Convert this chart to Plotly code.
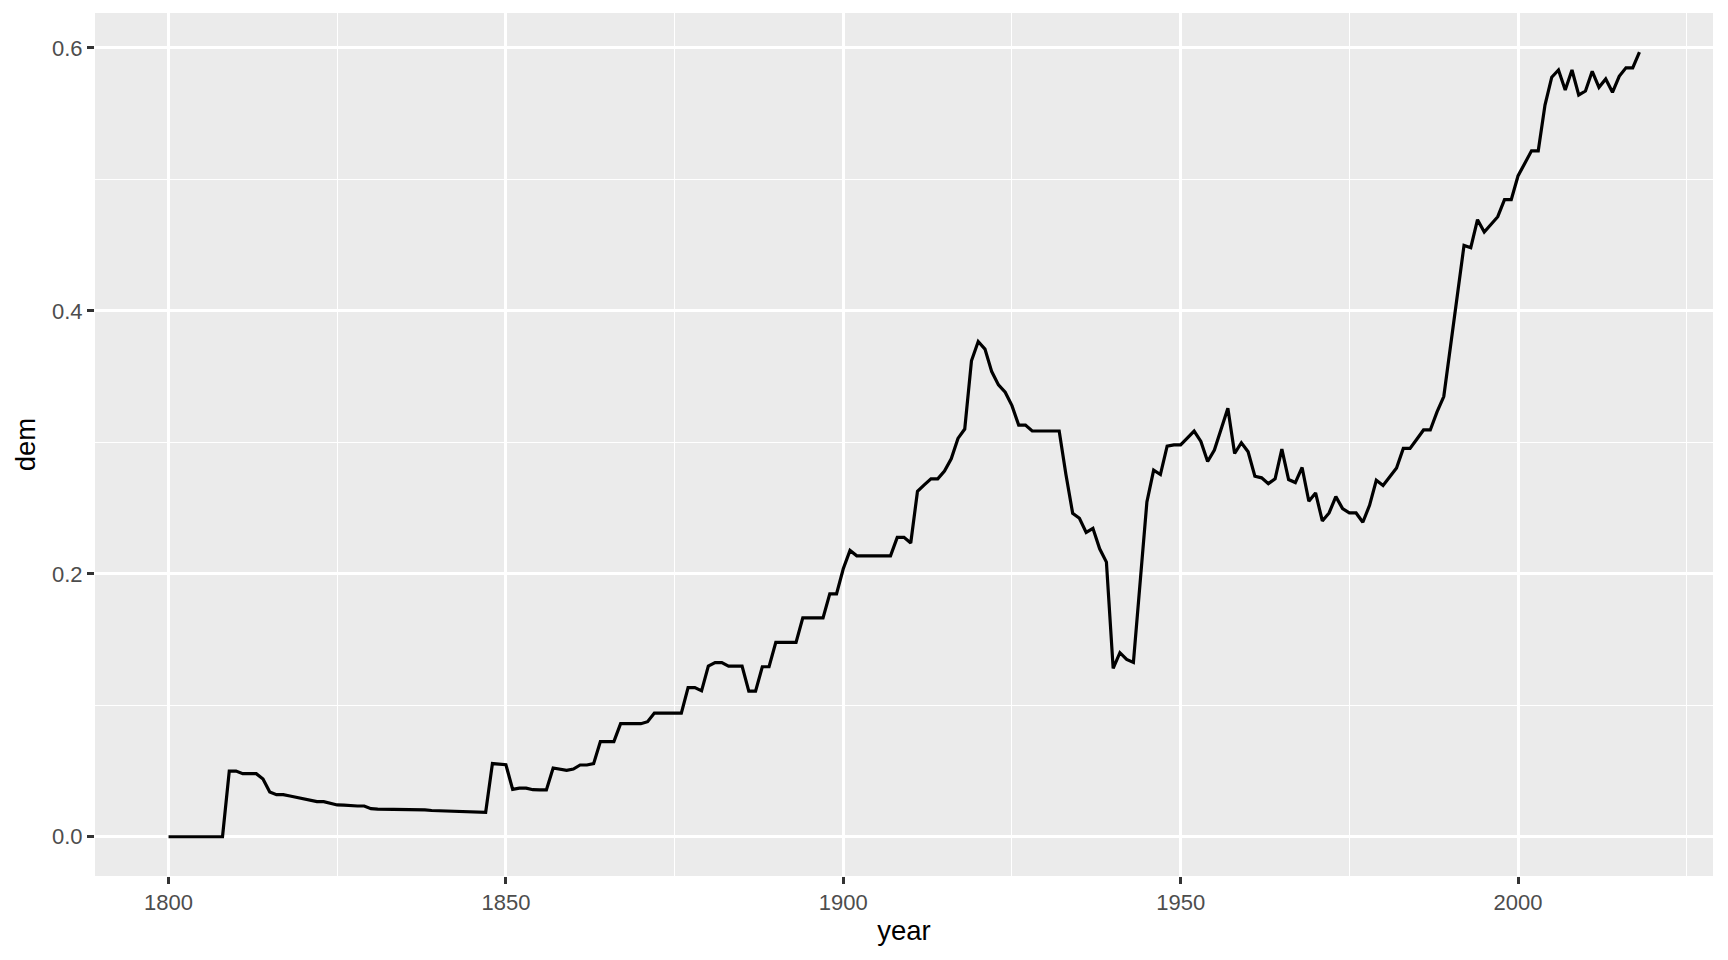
import plotly.graph_objects as go

years = list(range(1800, 2019))

dem = [
    0, 0, 0, 0, 0, 0, 0, 0, 0, 0.050,                                      # 1800s
    0.050, 0.048, 0.048, 0.048, 0.044, 0.034, 0.032, 0.032, 0.031, 0.030,  # 1810s
    0.029, 0.0275, 0.0267, 0.0267, 0.0254, 0.0242, 0.024, 0.0234, 0.0234, 0.0234,  # 1820s
    0.0214, 0.0211, 0.021, 0.021, 0.021, 0.021, 0.021, 0.021, 0.0205, 0.020,       # 1830s
    0.0198, 0.0198, 0.0196, 0.0196, 0.0192, 0.0188, 0.0188, 0.0186, 0.0557, 0.0551, # 1840s
    0.0548, 0.0361, 0.037, 0.037, 0.0358, 0.0356, 0.0356, 0.0523, 0.0513, 0.0505,  # 1850s
    0.0515, 0.0546, 0.0546, 0.0556, 0.0724, 0.0724, 0.0724, 0.086, 0.086, 0.086,   # 1860s
    0.086, 0.0875, 0.0941, 0.0941, 0.0941, 0.0941, 0.0941, 0.1135, 0.1135, 0.111,  # 1870s
    0.1298, 0.1324, 0.1324, 0.1298, 0.1298, 0.1298, 0.1108, 0.1108, 0.1293, 0.1293, # 1880s
    0.1478, 0.1478, 0.1478, 0.1478, 0.1665, 0.1665, 0.1665, 0.1665, 0.1847, 0.1847, # 1890s
    0.2038, 0.2178, 0.2137, 0.2137, 0.2137, 0.2137, 0.2137, 0.2137, 0.2277, 0.2277, # 1900s
    0.2234, 0.2628, 0.2676, 0.2722, 0.2722, 0.2781, 0.2875, 0.303, 0.3101, 0.362,   # 1910s
    0.3767, 0.3709, 0.3538, 0.3437, 0.3381, 0.3279, 0.3131, 0.3131, 0.3086, 0.3086, # 1920s
    0.3086, 0.3086, 0.3086, 0.2755, 0.246, 0.2423, 0.2315, 0.2346, 0.219, 0.2089,   # 1930s
    0.128, 0.14, 0.1349, 0.1326, 0.195, 0.2547, 0.2788, 0.2755, 0.2971, 0.2981,     # 1940s
    0.2981, 0.3035, 0.3086, 0.3007, 0.2854, 0.2941, 0.3098, 0.3259, 0.2915, 0.2997, # 1950s
    0.2928, 0.2742, 0.273, 0.2686, 0.2722, 0.2948, 0.2717, 0.2694, 0.2809, 0.2552,  # 1960s
    0.2615, 0.2402, 0.2463, 0.2587, 0.2496, 0.2463, 0.2463, 0.2392, 0.2521, 0.2711, # 1970s
    0.2671, 0.2737, 0.2805, 0.2954, 0.2954, 0.3023, 0.3094, 0.3094, 0.3231, 0.3348, # 1980s
    0.373, 0.411, 0.4498, 0.448, 0.4693, 0.4599, 0.4658, 0.4716, 0.4846, 0.4846,    # 1990s
    0.5026, 0.5128, 0.5217, 0.5217, 0.5565, 0.5777, 0.5832, 0.568, 0.5832, 0.5642,  # 2000s
    0.5672, 0.5822, 0.57, 0.5764, 0.5662, 0.5784, 0.5848, 0.5848, 0.5967,          # 2010s
]

x_ticks = [1800, 1850, 1900, 1950, 2000]
y_ticks = [0.0, 0.2, 0.4, 0.6]
y_tick_labels = ["0.0", "0.2", "0.4", "0.6"]

def expand(lo, hi, f=0.05):
    r = hi - lo
    return [lo - f * r, hi + f * r]

FONT = "Liberation Sans, Arial, Helvetica, sans-serif"

fig = go.Figure()
fig.add_trace(go.Scatter(
    x=years, y=dem, mode="lines",
    line=dict(color="black", width=3.2),
    showlegend=False,
))

# the page body adds an 8px offset, so the figure is 8px smaller on each side
fig.update_layout(
    width=1720, height=952,
    margin=dict(l=87, r=15, t=5, b=84, autoexpand=False),
    paper_bgcolor="white",
    plot_bgcolor="#EBEBEB",
    font=dict(family=FONT, color="#4D4D4D", size=22),
    showlegend=False,
)

fig.update_xaxes(
    range=expand(min(years), max(years)),
    tickvals=x_ticks,
    ticktext=[str(v) for v in x_ticks],
    ticks="outside", ticklen=7, tickwidth=2.6, tickcolor="#333333",
    tickfont=dict(family=FONT, size=22, color="#4D4D4D"),
    showgrid=True, gridcolor="white", gridwidth=2.8,
    minor=dict(dtick=25, tick0=1800, showgrid=True, gridcolor="white", gridwidth=1.4, ticks=""),
    zeroline=False, showline=False,
    title=dict(text="year", font=dict(family=FONT, size=27.5, color="black"), standoff=6),
    automargin=False,
)

fig.update_yaxes(
    range=expand(min(dem), max(dem)),
    tickvals=y_ticks,
    ticktext=y_tick_labels,
    ticks="outside", ticklen=7, tickwidth=2.6, tickcolor="#333333",
    tickfont=dict(family=FONT, size=22, color="#4D4D4D"),
    showgrid=True, gridcolor="white", gridwidth=2.8,
    minor=dict(dtick=0.1, tick0=0, showgrid=True, gridcolor="white", gridwidth=1.4, ticks=""),
    zeroline=False, showline=False,
    title=dict(text="dem", font=dict(family=FONT, size=27.5, color="black"), standoff=8),
    automargin=False,
)

fig.write_html("out.html")
